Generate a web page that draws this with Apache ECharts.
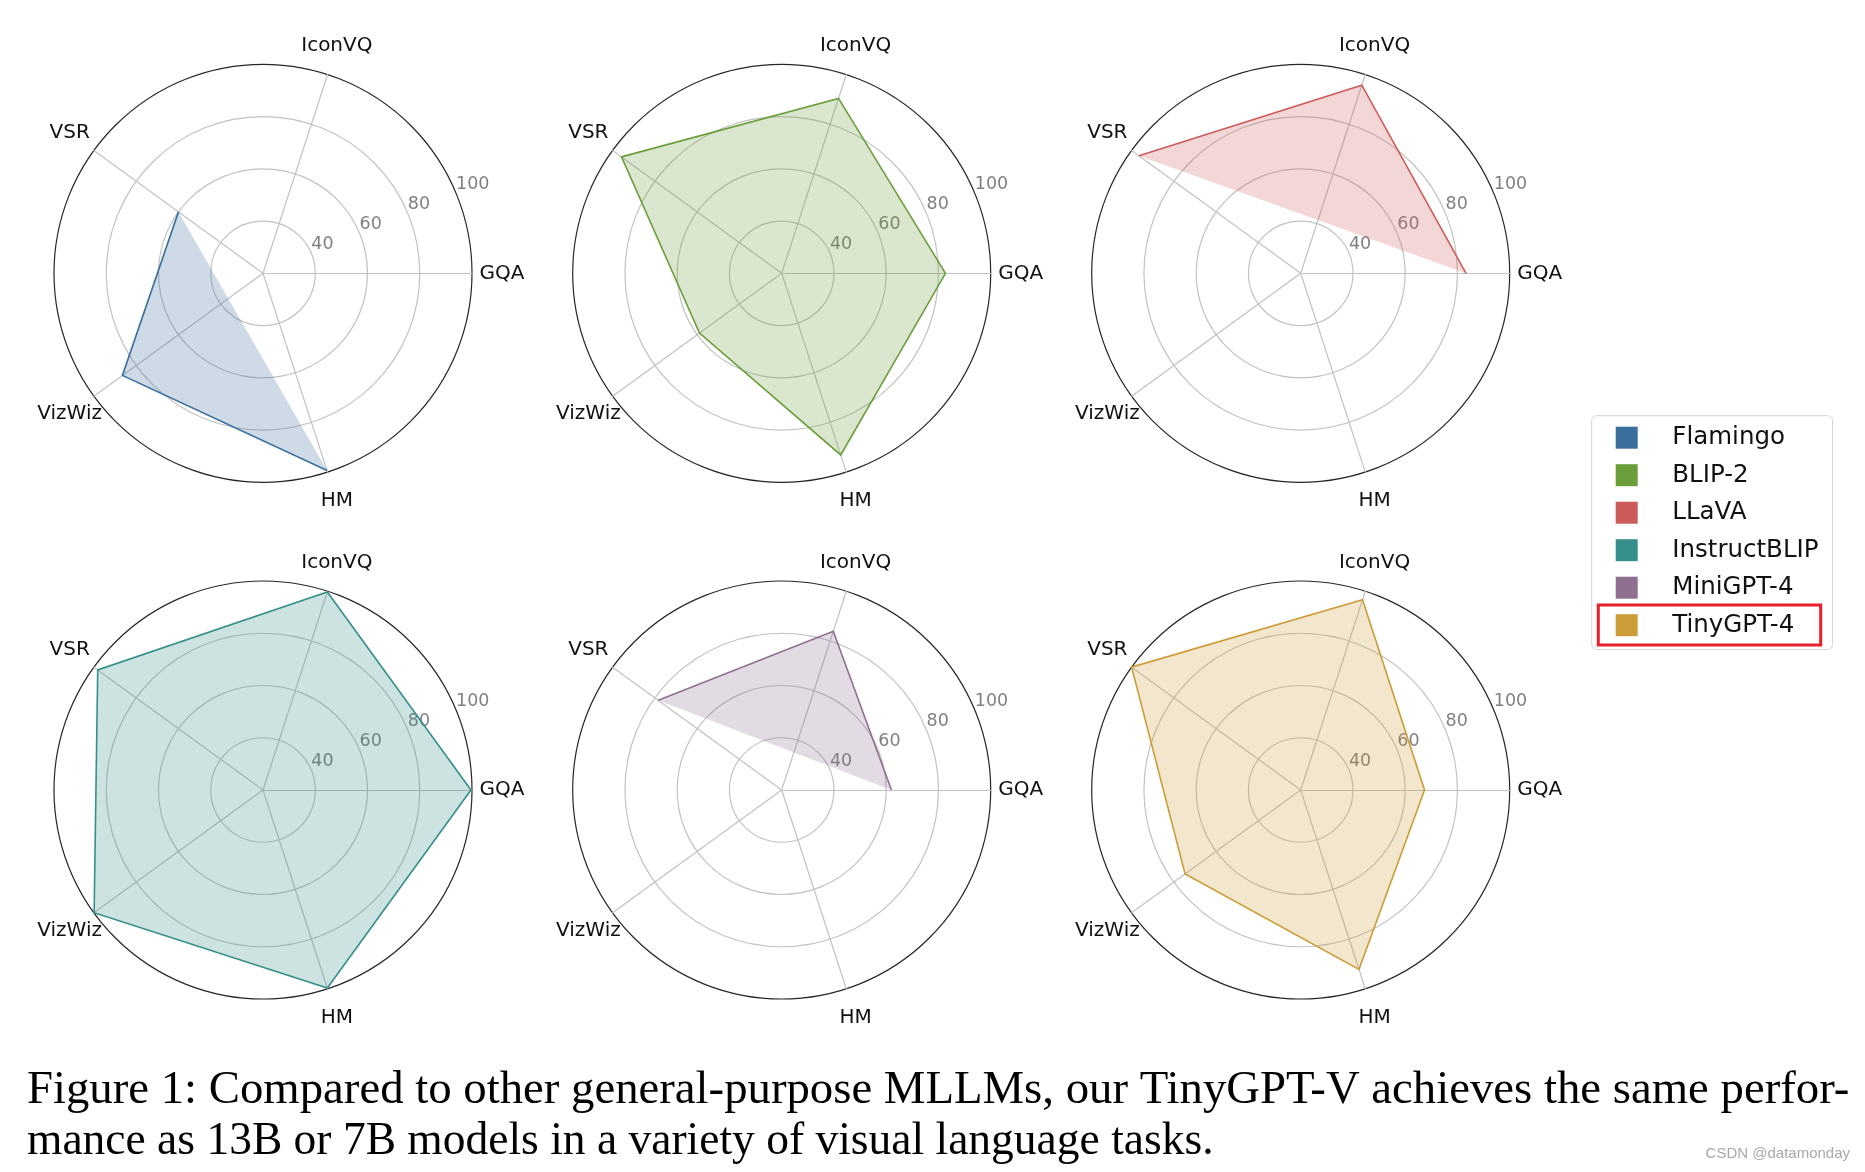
<!DOCTYPE html>
<html><head><meta charset="utf-8">
<script src="https://cdn.jsdelivr.net/npm/echarts@6.0.0/dist/echarts.min.js"></script>
<style>html,body{margin:0;padding:0;background:#fff}#c{width:1865px;height:1172px}</style>
</head><body><div id="c"></div>
<script>
// ---------------- data ----------------
const categories = ['GQA', 'IconVQ', 'VSR', 'VizWiz', 'HM'];
const models = ['Flamingo', 'BLIP-2', 'LLaVA', 'InstructBLIP', 'MiniGPT-4', 'TinyGPT-4'];
const modelColors = ['#3b6f9e', '#6b9e3a', '#ce5b5b', '#368f8b', '#8f6f8f', '#cc9c39'];
// null = no result reported (not drawn)
const flamingo     = [null, null, 60.0, 86.5, 99.4];
const blip2        = [82.7, 90.4, 95.8, 58.9, 93.1];
const llava        = [83.3, 95.7, 96.5, null, null];
const instructblip = [99.6, 99.7, 98.2, 99.9, 99.7];
const minigpt4     = [62.0, 83.9, 78.4, null, null];
const tinygpt4     = [67.4, 96.6, 100.0, 74.7, 92.2];
const modelValues = [flamingo, blip2, llava, instructblip, minigpt4, tinygpt4];
const radialMin = 20, radialMax = 100, radialSplits = 4;
const captionLines = [
  'Figure 1: Compared to other general-purpose MLLMs, our TinyGPT-V achieves the same perfor-',
  'mance as 13B or 7B models in a variety of visual language tasks.'
];
const watermark = 'CSDN @datamonday';

// ---------------- layout ----------------
const centersX = [263, 781.7, 1300.7];
const centersY = [273.3, 790];
const R = 209;
const gridColor = '#c2c2c2';
const spineColor = '#262626';

function rgba(hex, a) {
  const n = parseInt(hex.slice(1), 16);
  return 'rgba(' + (n >> 16 & 255) + ',' + (n >> 8 & 255) + ',' + (n & 255) + ',' + a + ')';
}

const radar = [], polar = [], angleAxis = [], radiusAxis = [], series = [];
models.forEach(function (name, i) {
  const cx = centersX[i % 3], cy = centersY[Math.floor(i / 3)];
  // main radar: rings, spokes, names
  radar.push({
    center: [cx, cy], radius: R, startAngle: 0, shape: 'circle', splitNumber: radialSplits,
    indicator: categories.map(function (c) { return { name: c, min: radialMin, max: radialMax }; }),
    axisName: { color: '#111', fontSize: 20, fontFamily: 'DejaVu Sans', align: 'center', verticalAlign: 'middle' },
    axisNameGap: 30,
    splitLine: { lineStyle: { color: [gridColor, gridColor, gridColor, gridColor, spineColor], width: 1.2 } },
    splitArea: { show: false },
    axisLine: { lineStyle: { color: gridColor, width: 1.2 } },
    axisTick: { show: false },
    axisLabel: { show: false }
  });
  // helper radar: radial tick labels at 22.5 deg
  radar.push({
    center: [cx, cy], radius: R, startAngle: 22.5, shape: 'circle', splitNumber: radialSplits,
    indicator: [
      { name: '', min: radialMin, max: radialMax, axisLabel: { show: true } },
      { name: '', min: radialMin, max: radialMax },
      { name: '', min: radialMin, max: radialMax }
    ],
    axisName: { show: false },
    splitLine: { show: false }, splitArea: { show: false },
    axisLine: { show: false }, axisTick: { show: false },
    axisLabel: {
      show: false, color: '#808080', fontSize: 17.5, fontFamily: 'DejaVu Sans',
      margin: 0, align: 'left', verticalAlign: 'bottom', showMinLabel: false,
      formatter: function (v) { return v <= radialMin ? '' : String(v); }
    }
  });
  polar.push({ center: [cx, cy], radius: R });
  angleAxis.push({ polarIndex: i, type: 'value', min: 0, max: 360, startAngle: 0, clockwise: false, show: false });
  radiusAxis.push({ polarIndex: i, type: 'value', min: radialMin, max: radialMax, show: false });

  const color = modelColors[i];
  series.push({
    type: 'custom', name: name, coordinateSystem: 'polar', polarIndex: i,
    itemStyle: { color: color },
    data: [modelValues[i].map(function (v) { return v == null ? '-' : v; })],
    z: 3,
    renderItem: function (params, api) {
      const n = categories.length;
      const pts = [];
      for (let k = 0; k < n; k++) {
        const v = api.value(k);
        pts.push(v == null || isNaN(v) ? null : api.coord([v, k * 360 / n]));
      }
      const valid = pts.filter(function (p) { return p; });
      const children = [{
        type: 'polygon', shape: { points: valid },
        style: { fill: rgba(color, 0.25), stroke: 'none' }
      }];
      if (valid.length === n) {
        children.push({ type: 'polygon', shape: { points: valid },
          style: { fill: 'none', stroke: color, lineWidth: 1.6 } });
      } else {
        const start = pts.findIndex(function (p) { return !p; });
        let run = [];
        for (let j = 1; j <= n; j++) {
          const p = pts[(start + j) % n];
          if (p) run.push(p);
          else {
            if (run.length > 1) children.push({ type: 'polyline', shape: { points: run }, style: { fill: 'none', stroke: color, lineWidth: 1.6 } });
            run = [];
          }
        }
        if (run.length > 1) children.push({ type: 'polyline', shape: { points: run }, style: { fill: 'none', stroke: color, lineWidth: 1.6 } });
      }
      return { type: 'group', children: children };
    }
  });
});

const option = {
  animation: false,
  backgroundColor: '#ffffff',
  radar: radar,
  polar: polar,
  angleAxis: angleAxis,
  radiusAxis: radiusAxis,
  legend: {
    orient: 'vertical', left: 1591.7, top: 415.7,
    padding: [9.5, 14, 11.8, 24],
    itemWidth: 22, itemHeight: 22, itemGap: 12.5, icon: 'rect',
    backgroundColor: '#ffffff', borderColor: '#d4d4d4', borderWidth: 1, borderRadius: 5,
    selectedMode: false,
    data: models.map(function (m, i) { return { name: m, itemStyle: { color: modelColors[i], borderWidth: 0 } }; }),
    formatter: function (name) { return '{t|' + name + '}'; },
    textStyle: { lineHeight: 22, rich: { t: { fontFamily: 'DejaVu Sans', fontSize: 24.5, color: '#111', lineHeight: 22, padding: [0, 0, 0, 29.6] } } }
  },
  graphic: [
    { type: 'rect', z: 100, shape: { x: 1598.3, y: 605, width: 222.4, height: 40 },
      style: { fill: 'none', stroke: '#e8202a', lineWidth: 3 } },
    { type: 'text', z: 100, x: 27, y: 1090.5,
      style: { text: captionLines[0], fontFamily: 'Liberation Serif', fontSize: 46.75, fill: '#000', align: 'left', verticalAlign: 'middle' } },
    { type: 'text', z: 100, x: 27, y: 1142.5,
      style: { text: captionLines[1], fontFamily: 'Liberation Serif', fontSize: 45.5, fill: '#000', align: 'left', verticalAlign: 'middle' } },
    { type: 'text', z: 100, x: 1850, y: 1154,
      style: { text: watermark, fontFamily: 'Liberation Sans', fontSize: 15, fill: '#a8a8a8', align: 'right', verticalAlign: 'middle' } }
  ],
  series: series
};

const chart = echarts.init(document.getElementById('c'), null, { renderer: 'canvas', width: 1865, height: 1172 });
chart.setOption(option);
</script></body></html>
